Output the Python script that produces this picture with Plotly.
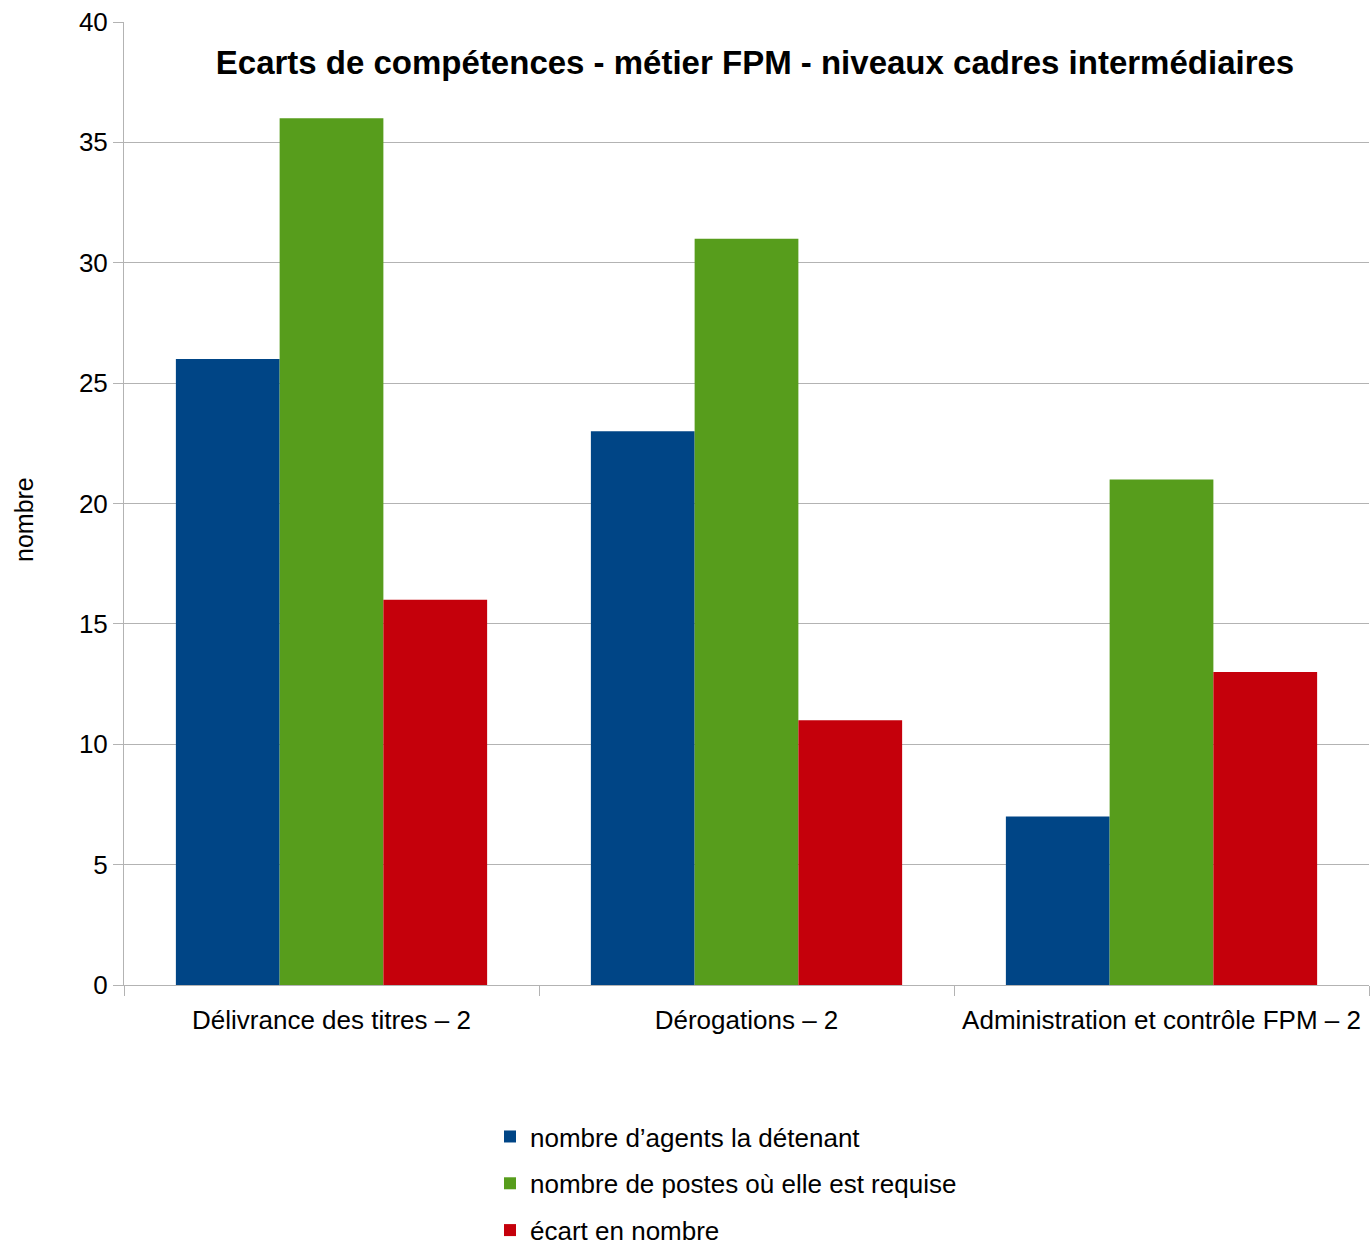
import plotly.graph_objects as go

categories = ["Délivrance des titres – 2", "Dérogations – 2", "Administration et contrôle FPM – 2"]
series_names = ["nombre d’agents la détenant", "nombre de postes où elle est requise", "écart en nombre"]
detenant = [26, 23, 7]
requise = [36, 31, 21]
ecart = [16, 11, 13]
colors = ["#004586", "#579d1c", "#c5000b"]

fig = go.Figure()
for i, (name, vals) in enumerate(zip(series_names, [detenant, requise, ecart])):
    fig.add_trace(go.Bar(x=categories, y=vals, name=name, marker_color=colors[i],
                         marker_line_width=0, legendgroup=str(i)))

font = "Liberation Sans, Arial, sans-serif"
fig.update_layout(
    width=1370, height=1245,
    margin=dict(l=124, r=1, t=22, b=260, autoexpand=False),
    paper_bgcolor="white", plot_bgcolor="white",
    barmode="group", bargap=0.25, bargroupgap=0,
    font=dict(family=font, size=26, color="black"),
    title=dict(text="<b>Ecarts de compétences - métier FPM - niveaux cadres intermédiaires</b>",
               x=755/1370, xanchor="center", xref="container",
               y=1-62/1245, yanchor="middle", yref="container",
               font=dict(size=33, family=font, color="black")),
    legend=dict(orientation="v", x=(490-124)/1245, xanchor="left", y=-0.133, yanchor="top",
                font=dict(size=26), tracegroupgap=10, itemwidth=30),
    showlegend=True,
)
fig.add_annotation(text="nombre", textangle=-90, showarrow=False,
                   xref="paper", yref="paper", x=(24-124)/1245, y=(985-520)/963,
                   xanchor="center", yanchor="middle", font=dict(size=25, family=font, color="black"))
fig.update_xaxes(showline=True, linecolor="#b3b3b3", linewidth=1, ticks="outside",
                 tickson="boundaries", ticklen=10, tickcolor="#b3b3b3", automargin=False,
                 showgrid=False, tickfont=dict(size=26), ticklabelstandoff=12)
fig.update_yaxes(range=[0, 40], dtick=5, showgrid=True, gridcolor="#b3b3b3", gridwidth=1,
                 showline=True, linecolor="#b3b3b3", ticks="outside", ticklen=10,
                 tickcolor="#b3b3b3", zeroline=False, tickfont=dict(size=26), automargin=False)
fig.write_html("out.html")
